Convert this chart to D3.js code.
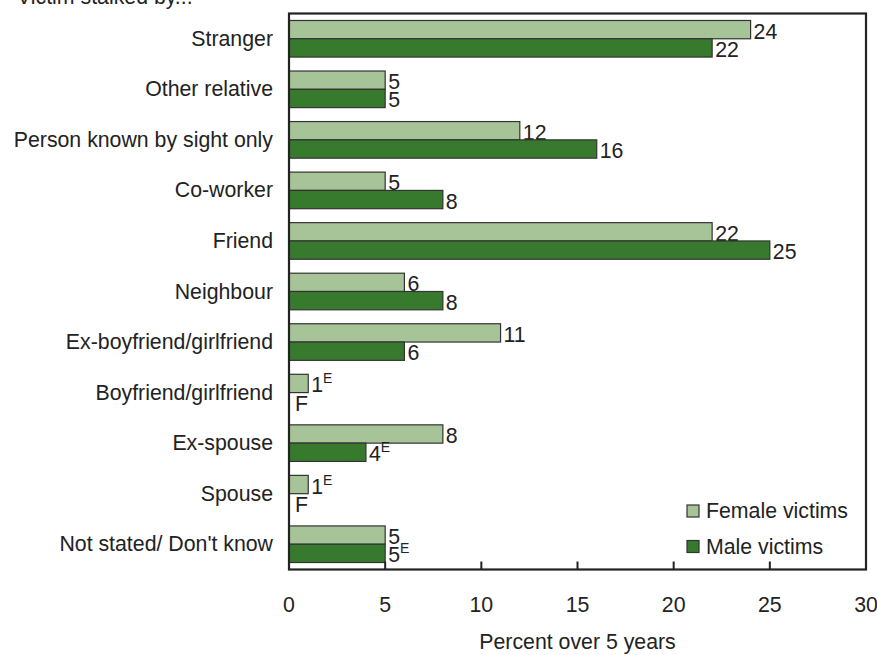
<!DOCTYPE html>
<html><head><meta charset="utf-8">
<script src="https://cdn.jsdelivr.net/npm/d3@7"></script>
<style>
body{margin:0;background:#fff;}
svg text{font-family:"Liberation Sans",Arial,Helvetica,sans-serif;fill:#222;}
</style></head><body>
<svg id="c" width="877" height="655"></svg>
<script>
const categories = ["Stranger","Other relative","Person known by sight only","Co-worker","Friend","Neighbour","Ex-boyfriend/girlfriend","Boyfriend/girlfriend","Ex-spouse","Spouse","Not stated/ Don't know"];
const femaleValues = [24,5,12,5,22,6,11,1,8,1,5];
const maleValues = [22,5,16,8,25,8,6,null,4,null,5];
const femaleFlags = ["","","","","","","","E","","E",""];
const maleFlags = ["","","","","","","","F","E","F","E"];
const xTicks = [0,5,10,15,20,25,30];
const seriesNames = ["Female victims","Male victims"];
const colors = ["#a7c499","#377a2e"];

const svg = d3.select("#c");
const L=289, R=866, T=13.5, B=569.5;
const fs = 21.3;
const x = d3.scaleLinear().domain([0,30]).range([L,R]);
const y = d3.scaleBand().domain(categories).range([T,B]).paddingInner(0.276).paddingOuter(0.138);
const sub = d3.scaleBand().domain([0,1]).range([0,y.bandwidth()]);

// bars
const series = [femaleValues, maleValues];
const flags = [femaleFlags, maleFlags];
series.forEach((vals,si)=>{
  categories.forEach((c,i)=>{
    const v = vals[i];
    const y0 = y(c)+sub(si), h = sub.bandwidth();
    const f = flags[si][i];
    if(v!=null){
      svg.append("rect").attr("x",x(0)).attr("y",y0).attr("width",x(v)-x(0)).attr("height",h)
        .attr("fill",colors[si]).attr("stroke","#333").attr("stroke-width",1.2);
      const t = svg.append("text").attr("x",x(v)+3).attr("y",y0+h/2+9).attr("font-size",fs).text(v);
      if(f==="E") t.append("tspan").attr("font-size",14).attr("dy",-9).text("E");
    } else if(f==="F"){
      svg.append("text").attr("x",x(0)+6).attr("y",y0+h/2+9).attr("font-size",fs).text("F");
    }
  });
});

// frame
svg.append("rect").attr("x",L).attr("y",T).attr("width",R-L).attr("height",B-T)
  .attr("fill","none").attr("stroke","#222").attr("stroke-width",2.2);

// x ticks (inward)
svg.selectAll(".tk").data(xTicks).join("line")
  .attr("x1",d=>x(d)).attr("x2",d=>x(d)).attr("y1",B).attr("y2",B-8)
  .attr("stroke","#222").attr("stroke-width",2);
svg.selectAll(".tl").data(xTicks).join("text")
  .attr("x",d=>x(d)).attr("y",612).attr("text-anchor","middle").attr("font-size",fs).text(d=>d);

// category labels
svg.selectAll(".cl").data(categories).join("text")
  .attr("x",273).attr("y",d=>y(d)+y.bandwidth()/2+7).attr("text-anchor","end").attr("font-size",fs).text(d=>d);

// axis title
svg.append("text").attr("x",(L+R)/2).attr("y",649).attr("text-anchor","middle").attr("font-size",fs).text("Percent over 5 years");
// top title
svg.append("text").attr("x",17).attr("y",4).attr("font-size",fs).text("Victim stalked by...");

// legend
seriesNames.forEach((n,i)=>{
  const ly = 505 + i*35.5;
  svg.append("rect").attr("x",687).attr("y",ly).attr("width",12).attr("height",12)
    .attr("fill",colors[i]).attr("stroke","#333").attr("stroke-width",1.2);
  svg.append("text").attr("x",706).attr("y",ly+13).attr("font-size",fs).text(n);
});
</script></body></html>
